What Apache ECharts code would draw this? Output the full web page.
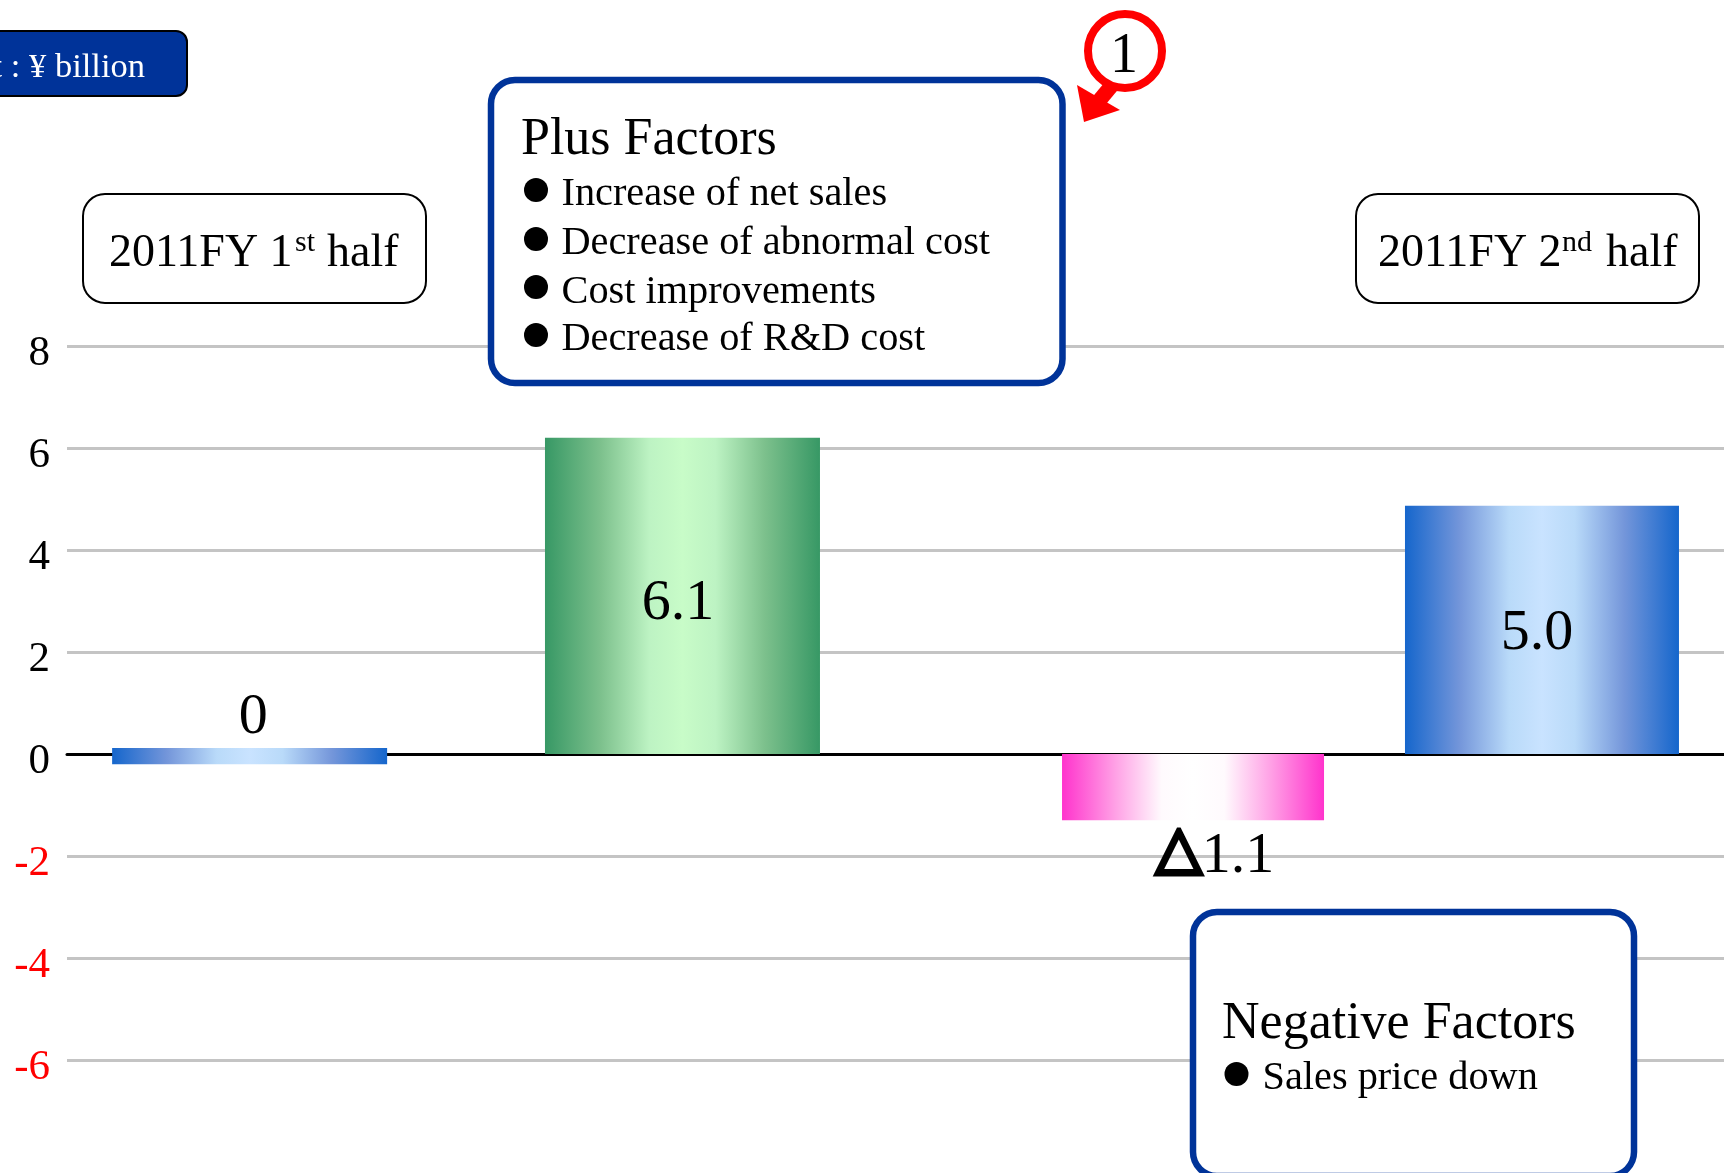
<!DOCTYPE html>
<html><head><meta charset="utf-8">
<style>html,body{margin:0;padding:0;background:#fff}#c{width:1724px;height:1173px}</style>
<script src="https://cdn.jsdelivr.net/npm/echarts@6/dist/echarts.min.js"></script>
</head><body><div id="c"></div>
<script>
const categories = ['2011FY 1st half', 'Plus Factors', 'Negative Factors', '2011FY 2nd half'];
const barHigh = [0.12, 6.2, 0, 4.87];
const barLow = [-0.2, 0, -1.3, 0];
const barLabels = ['0', '6.1', '△1.1', '5.0'];
const plusFactors = ['Increase of net sales', 'Decrease of abnormal cost', 'Cost improvements', 'Decrease of R&D cost'];
const negativeFactors = ['Sales price down'];
const unitText = 'Unit : ¥ billion';

const SERIF = '"Liberation Serif","Times New Roman",serif';
const BLUE = '#003399';
const xNudge = [-24.5, -5.9, 90.4, 25.1];
const barPx = [275, 275, 262, 274];
const labelDx = [3.5, -4.5, 22, -5];
const labelValue = [0.72, 2.94, -2.02, 2.35];

const blueGrad = ['#1566cc', '#7496da', '#b9daf9', '#c9e3ff'];
function grad(c) {
  return new echarts.graphic.LinearGradient(0, 0, 1, 0, [
    {offset: 0, color: c[0]}, {offset: .2, color: c[1]}, {offset: .38, color: c[2]}, {offset: .5, color: c[3]},
    {offset: .62, color: c[2]}, {offset: .8, color: c[1]}, {offset: 1, color: c[0]}]);
}
const fills = [blueGrad, ['#379865', '#7cc08c', '#bdf3c3', '#c8fcc8'], ['#ff33cc', '#ff9fe5', '#fffafd', '#ffffff'], blueGrad];

function txt(x, base, text, size, extra) {
  return Object.assign({type: 'text', z: 23, x: x, y: base + 3 - size * 0.31,
    style: Object.assign({text: text, fontFamily: SERIF, fontSize: size, fill: '#000', textAlign: 'left', textVerticalAlign: 'middle', verticalAlign: 'middle'}, extra || {})});
}
function box(x1, y1, x2, y2, r, lw, stroke, fill) {
  return {type: 'rect', z: 10, shape: {x: x1, y: y1, width: x2 - x1, height: y2 - y1, r: r},
    style: {fill: fill || '#fff', stroke: stroke, lineWidth: lw}};
}
function dot(cx, cy) { return {type: 'circle', z: 20, shape: {cx: cx, cy: cy, r: 12}, style: {fill: '#000'}}; }

const plusBase = [204, 253, 302, 349], plusDot = [190, 239, 287, 335];
const graphics = [
  box(-100, 31, 187, 96, 11, 2, '#000', BLUE),
  txt(145, 76, unitText, 34.5, {fill: '#fff', textAlign: 'right'}),
  box(83, 194, 426, 303, 22, 2, '#000'),
  txt(109, 265.5, '2011FY 1', 46), txt(295, 249, 'st', 30), txt(327, 265.5, 'half', 46),
  box(1356, 194, 1699, 303, 22, 2, '#000'),
  txt(1378, 265.5, '2011FY 2', 46), txt(1562, 249, 'nd', 30), txt(1606, 265.5, 'half', 46),
  box(491, 80, 1062.5, 383, 24, 6.5, BLUE),
  txt(521, 153, 'Plus Factors', 52),
  box(1193, 912, 1634, 1176, 24, 6.5, BLUE),
  txt(1222, 1037, 'Negative Factors', 52),
  {type: 'line', z: 21, shape: {x1: 1113, y1: 84, x2: 1098, y2: 102}, style: {stroke: '#ff0000', lineWidth: 15}},
  {type: 'polygon', z: 21, shape: {points: [[1084, 122], [1077, 85], [1120, 110]]}, style: {fill: '#ff0000'}},
  {type: 'circle', z: 22, shape: {cx: 1125, cy: 51, r: 37}, style: {fill: '#fff', stroke: '#ff0000', lineWidth: 8}},
  txt(1124, 72, '1', 56, {textAlign: 'center'})
];
plusFactors.forEach((t, i) => { graphics.push(dot(536, plusDot[i]), txt(561.5, plusBase[i], t, 40.3)); });
negativeFactors.forEach(t => { graphics.push(dot(1236.5, 1074), txt(1262.5, 1088, t, 40.3)); });

const chart = echarts.init(document.getElementById('c'), null, {renderer: 'canvas'});
chart.setOption({
  animation: false,
  backgroundColor: '#fff',
  grid: {left: 67, right: 0, top: 346, height: 714},
  xAxis: {type: 'category', data: categories, axisTick: {show: false}, axisLabel: {show: false},
    axisLine: {show: true, onZero: true, lineStyle: {color: '#000', width: 3}}, splitLine: {show: false}},
  yAxis: {type: 'value', min: -6, max: 8, interval: 2, axisLine: {show: false}, axisTick: {show: false},
    splitLine: {show: true, lineStyle: {color: '#c4c4c4', width: 3}},
    axisLabel: {margin: 17, fontFamily: SERIF, fontSize: 43, verticalAlign: 'top', lineHeight: 16,
      color: v => (Number(v) < 0 ? '#ff0000' : '#000000')}},
  series: [{
    type: 'custom',
    z: 5,
    clip: false,
    encode: {x: 0, y: [1, 2]},
    data: categories.map((c, i) => [i, barLow[i], barHigh[i]]),
    renderItem: function (params, api) {
      const i = api.value(0);
      const top = api.coord([i, api.value(2)]);
      const bot = api.coord([i, api.value(1)]);
      const cx = top[0] + xNudge[i];
      const w = barPx[i];
      const label = barLabels[i];
      const labelPos = api.coord([i, labelValue[i]]);
      const isNeg = label.charAt(0) === '△';
      return {type: 'group', children: [
        {type: 'rect', shape: {x: cx - w / 2, y: top[1], width: w, height: bot[1] - top[1]}, style: {fill: grad(fills[i])}},
        {type: 'text', z2: 10, x: cx + labelDx[i], y: labelPos[1], style: {
          text: isNeg ? '{t|△}' + label.slice(1) : label,
          fontFamily: SERIF, fontSize: 58, fill: '#000', textAlign: 'center', verticalAlign: 'middle',
          rich: {t: {fontFamily: '"DejaVu Sans"', fontSize: 60, fill: '#000', stroke: '#000', lineWidth: 4, padding: [0, 0, 12, 0]}}
        }}
      ]};
    }
  }],
  graphic: graphics
});
</script></body></html>
